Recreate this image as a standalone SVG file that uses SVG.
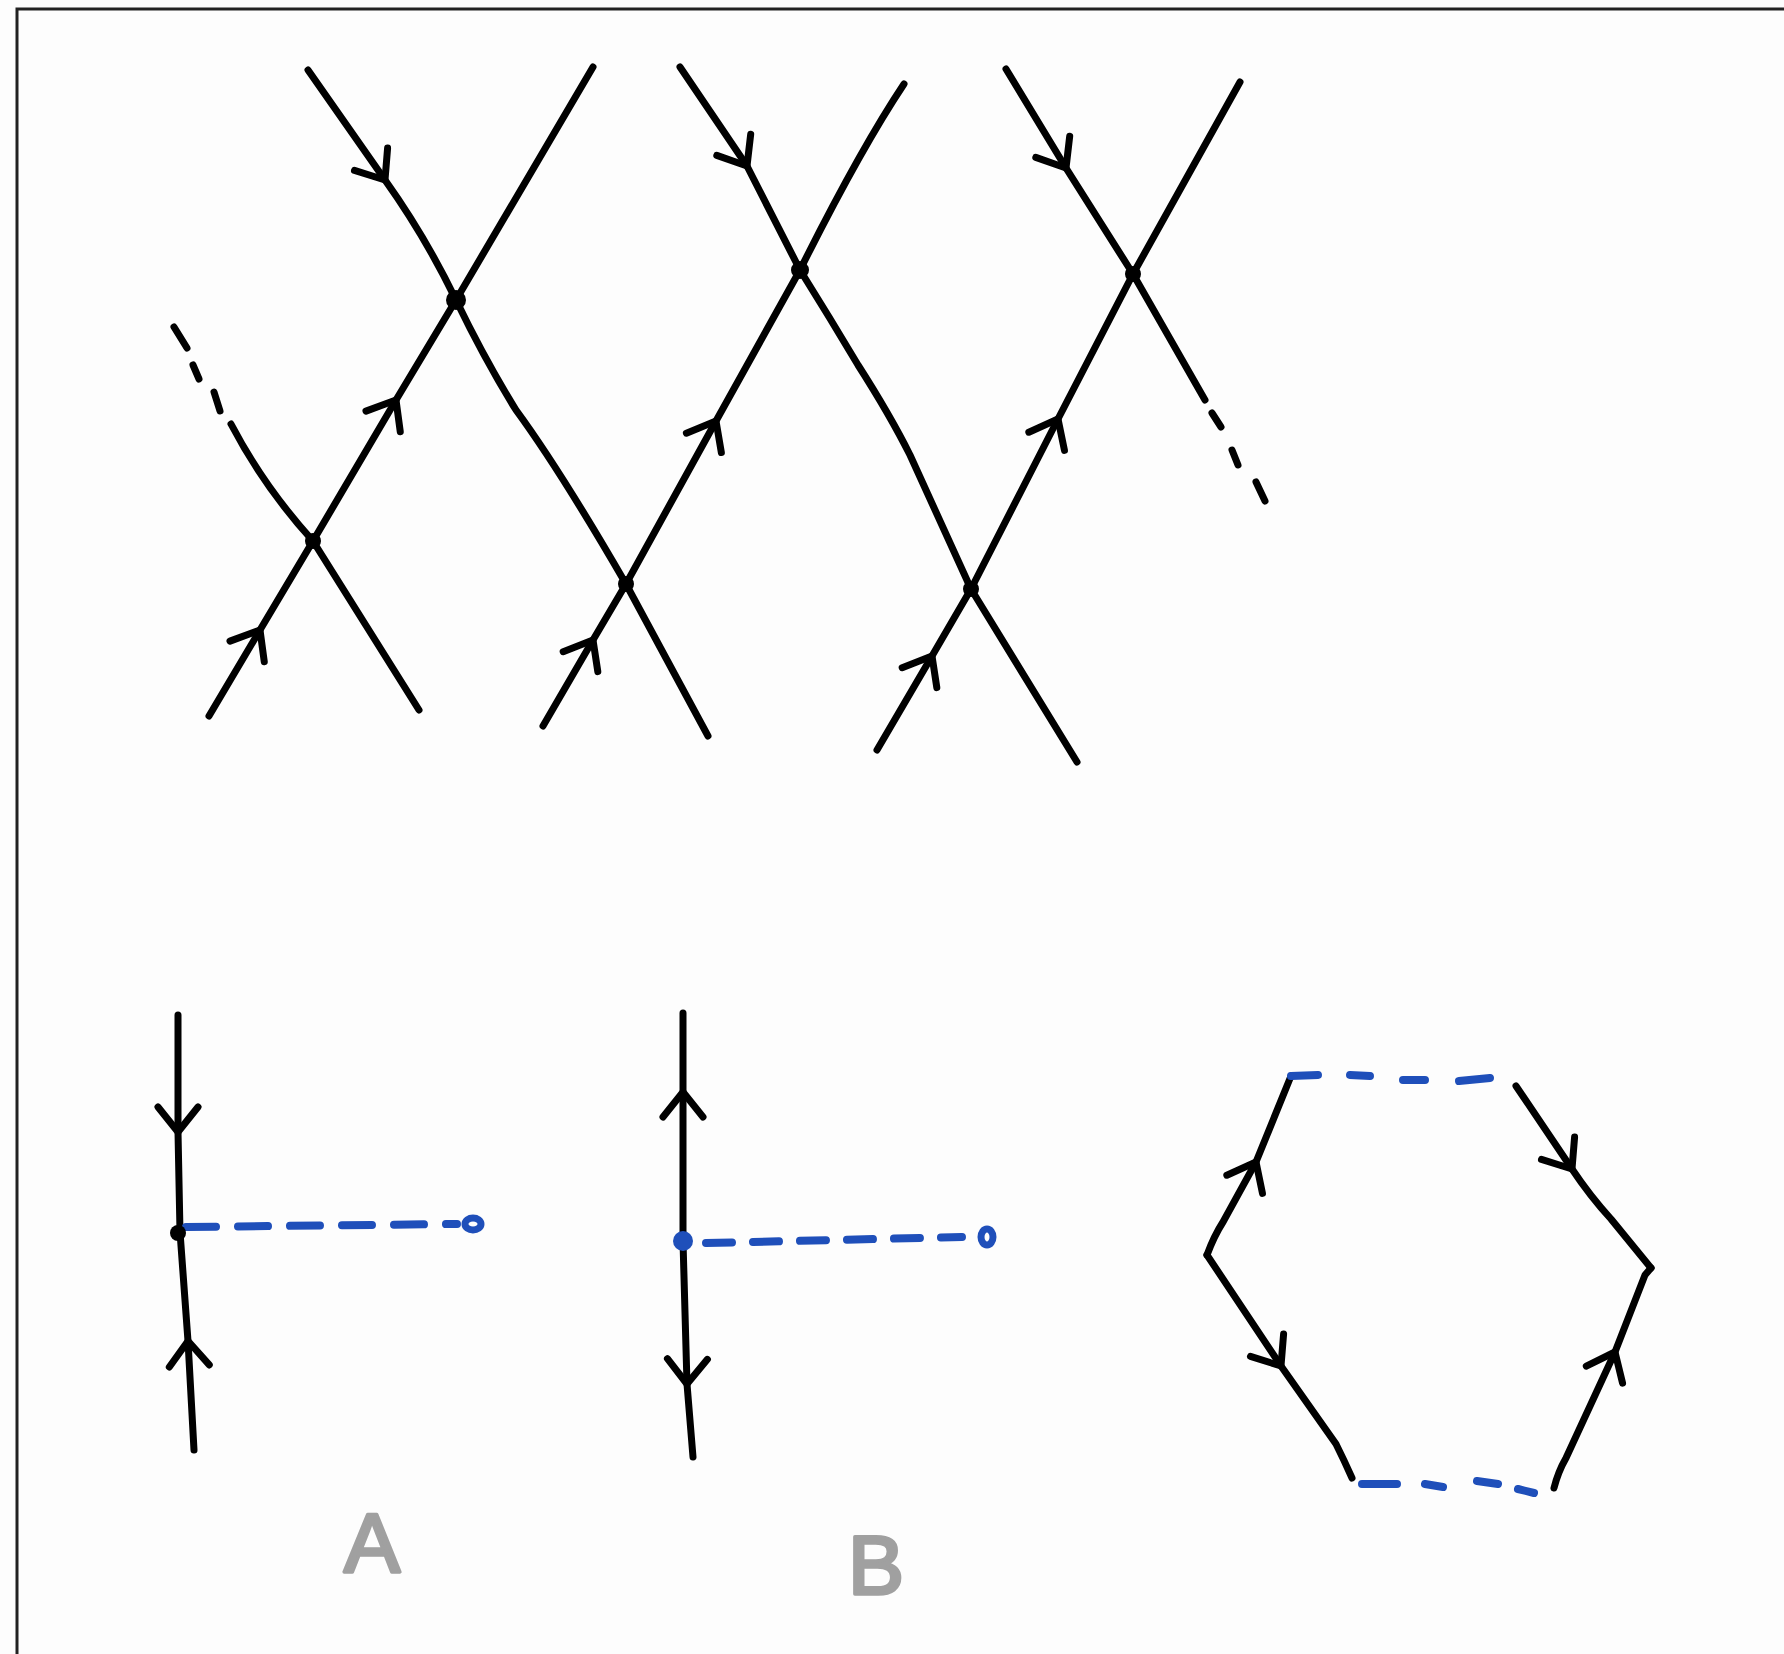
<svg xmlns="http://www.w3.org/2000/svg" xmlns:xlink="http://www.w3.org/1999/xlink" width="1784" height="1654" viewBox="0 0 1784 1654">
<style>
.ln{fill:none;stroke:#000;stroke-width:7;stroke-linecap:round;stroke-linejoin:round}
.dash{fill:none;stroke:#000;stroke-width:7;stroke-linecap:round}
.bl{fill:none;stroke:#1f4fba;stroke-width:8;stroke-linecap:round}
.nd{fill:#000}
.ndb{fill:#1f4fba}
.lbl{font-family:"Liberation Sans",Arial,sans-serif;font-size:84px;fill:#a0a0a0;stroke:#a0a0a0;stroke-width:3.5;stroke-linejoin:round;text-anchor:middle}
.frame{fill:none;stroke:#222;stroke-width:3}
</style>
<defs>
<path id="chev" d="M-25,-20 L0,0 L-25,20" fill="none" stroke="#000" stroke-width="7" stroke-linecap="round" stroke-linejoin="round"/>
</defs>
<rect x="0" y="0" width="1784" height="1654" fill="#fdfdfd"/>
<path class="frame" d="M17,1654 L17,9 L1784,9"/>

<g id="connectors">
  <!-- top lattice -->
  <path class="ln" d="M308,70 L385,180 Q425,236 456,300 Q485,360 516,410 Q560,470 626,584 L708,736"/>
  <path class="ln" d="M593,67 L456,300 L396,400 L313,541 L260,630 L209,716"/>
  <path class="dash" d="M174,327 L187,348 M193,365 L199,379 M214,392 L220,411"/>
  <path class="ln" d="M231,424 Q264,487 313,541 L419,710"/>
  <path class="ln" d="M680,67 L747,166 L800,270 Q830,318 858,365 Q890,415 910,455 L971,589 L1077,762"/>
  <path class="ln" d="M904,84 Q860,150 800,270 L716,421 L626,584 L593,640 L543,726"/>
  <path class="ln" d="M1006,69 L1066,168 L1133,274 L1205,400"/>
  <path class="dash" d="M1212,413 L1221,427 M1232,450 L1238,465 M1256,482 L1265,501"/>
  <path class="ln" d="M1240,82 L1133,274 L1058,419 L971,589 L932,656 L877,750"/>
  <use xlink:href="#chev" transform="translate(385,180) rotate(56)"/>
  <use xlink:href="#chev" transform="translate(396,400) rotate(-59)"/>
  <use xlink:href="#chev" transform="translate(260,630) rotate(-59)"/>
  <use xlink:href="#chev" transform="translate(747,166) rotate(58)"/>
  <use xlink:href="#chev" transform="translate(716,421) rotate(-61)"/>
  <use xlink:href="#chev" transform="translate(593,640) rotate(-60)"/>
  <use xlink:href="#chev" transform="translate(1066,168) rotate(58)"/>
  <use xlink:href="#chev" transform="translate(1058,419) rotate(-63)"/>
  <use xlink:href="#chev" transform="translate(932,656) rotate(-60)"/>

  <!-- A -->
  <path class="ln" d="M178,1015 L178,1132 L180,1232 L188,1341 L194,1450"/>
  <use xlink:href="#chev" transform="translate(178,1132) rotate(90)"/>
  <use xlink:href="#chev" transform="translate(188,1341) rotate(-93)"/>
  <path class="bl" d="M186,1227 L457,1224" stroke-dasharray="30 22"/>
  <!-- B -->
  <path class="ln" d="M683,1013 L683,1092 L683,1241 L687,1384 L693,1457"/>
  <use xlink:href="#chev" transform="translate(683,1092) rotate(-90)"/>
  <use xlink:href="#chev" transform="translate(687,1384) rotate(91)"/>
  <path class="bl" d="M706,1243 L962,1237" stroke-dasharray="26 21"/>

  <!-- hexagon -->
  <path class="ln" d="M1207,1255 Q1214,1236 1223,1222 L1256,1162 L1291,1076"/>
  <path class="ln" d="M1207,1255 L1281,1366 L1336,1444 Q1344,1460 1352,1478"/>
  <path class="ln" d="M1516,1086 L1572,1169 Q1590,1196 1611,1219 L1651,1268"/>
  <path class="ln" d="M1554,1488 Q1558,1472 1566,1458 L1615,1352 L1645,1275 L1651,1268"/>
  <use xlink:href="#chev" transform="translate(1256,1162) rotate(-63)"/>
  <use xlink:href="#chev" transform="translate(1281,1366) rotate(56)"/>
  <use xlink:href="#chev" transform="translate(1572,1169) rotate(56)"/>
  <use xlink:href="#chev" transform="translate(1615,1352) rotate(-65)"/>
  <path class="bl" d="M1291,1076 L1318,1075 M1350,1075 L1370,1076 M1403,1080 L1425,1080 M1459,1081 L1490,1078"/>
  <path class="bl" d="M1362,1484 L1397,1484 M1425,1484 L1443,1487 M1477,1481 L1498,1484 M1518,1489 L1534,1493"/>
</g>

<g id="n1"><circle class="nd" cx="456" cy="300" r="10"/></g>
<g id="n2"><circle class="nd" cx="313" cy="541" r="8"/></g>
<g id="n3"><circle class="nd" cx="626" cy="584" r="8"/></g>
<g id="n4"><circle class="nd" cx="800" cy="270" r="9"/></g>
<g id="n5"><circle class="nd" cx="1133" cy="274" r="8"/></g>
<g id="n6"><circle class="nd" cx="971" cy="589" r="8"/></g>
<g id="nA"><circle class="nd" cx="178" cy="1233" r="8"/></g>
<g id="nAend"><ellipse cx="473" cy="1224" rx="8" ry="6" fill="none" stroke="#1f4fba" stroke-width="7"/></g>
<g id="nB"><circle class="ndb" cx="683" cy="1241" r="10"/></g>
<g id="nBend"><ellipse cx="987" cy="1237" rx="6" ry="8" fill="none" stroke="#1f4fba" stroke-width="7"/></g>
<g id="labelA"><text class="lbl" x="372" y="1572">A</text></g>
<g id="labelB"><text class="lbl" x="876" y="1594">B</text></g>
</svg>
